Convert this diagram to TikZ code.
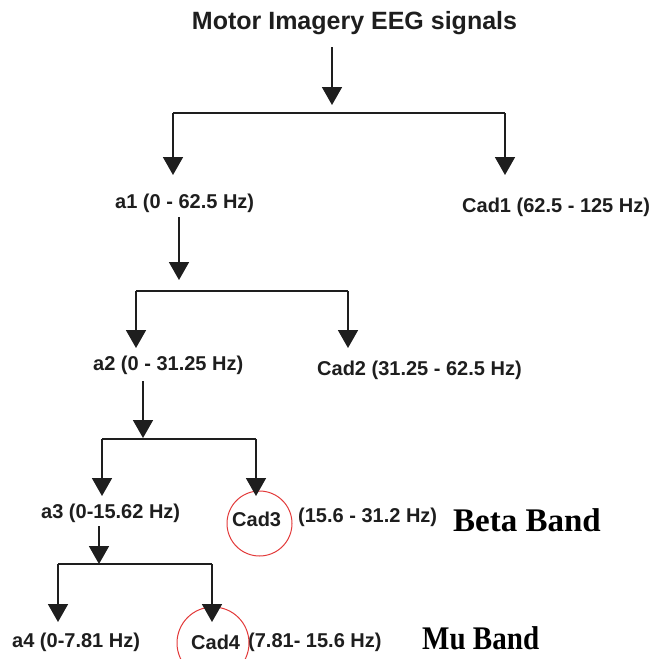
\documentclass[tikz,border=0pt]{standalone}
\usepackage{fontspec}
\setmainfont{Liberation Sans}
\newfontfamily\serifbf{Liberation Serif}
\usetikzlibrary{arrows.meta}
\definecolor{ink}{HTML}{1E1E1E}
\definecolor{ringred}{HTML}{E23A3A}
\tikzset{
  arr/.style={-{Triangle[width=20pt,length=18pt]}, line width=1.8pt, draw=ink},
  barline/.style={line width=1.8pt, draw=ink},
  lbl/.style={anchor=west, inner sep=0pt, text=ink, font=\fontsize{20}{24}\selectfont\bfseries},
  ttl/.style={inner sep=0pt, text=ink, font=\fontsize{25}{30}\selectfont\bfseries},
  band/.style={anchor=west, inner sep=0pt, text=black, font=\fontsize{33}{38}\selectfont\serifbf\bfseries},
  ring/.style={draw=ringred, line width=1pt}
}
\begin{document}
\begin{tikzpicture}[x=1pt,y=1pt]
\useasboundingbox (0,0) rectangle (655,-659);
% texts
\node[ttl] (title) at (354.5,-23) {Motor Imagery EEG signals};
\node[lbl] (a1) at (115,-203) {a1 (0 - 62.5 Hz)};
\node[lbl] (cad1) at (462,-207) {Cad1 (62.5 - 125 Hz)};
\node[lbl] (a2) at (93,-365) {a2 (0 - 31.25 Hz)};
\node[lbl] (cad2) at (317,-370) {Cad2 (31.25 - 62.5 Hz)};
\node[lbl] (a3) at (41,-513) {a3 (0-15.62 Hz)};
\node[lbl] (cad3) at (232,-519) {Cad3};
\node[lbl] (r3) at (298,-517) {(15.6 - 31.2 Hz)};
\node[band] (beta) at (453,-520) {Beta Band};
\node[lbl] (a4) at (12,-642) {a4 (0-7.81 Hz)};
\node[lbl] (cad4) at (191,-642) {Cad4};
\node[lbl] (r4) at (248,-642) {(7.81- 15.6 Hz)};
\node[band, xscale=0.88] (mu) at (422,-638) {Mu Band};
% red rings
\node[ring, circle, minimum size=65pt, inner sep=0pt] (ring3) at (259.5,-523.5) {};
\node[ring, circle, minimum size=72pt, inner sep=0pt] (ring4) at (213,-643) {};
% level 1
\coordinate (s1) at (332,-47);
\coordinate (t1) at (332,-105);
\coordinate (L1) at (173,-113);
\coordinate (R1) at (505,-113);
\coordinate (tL1) at (173,-175);
\coordinate (tR1) at (505,-175);
\draw[arr] (s1) -- (t1);
\draw[barline] (L1) -- (R1);
\draw[arr] (L1) -- (tL1);
\draw[arr] (R1) -- (tR1);
% level 2
\coordinate (s2) at (179,-217);
\coordinate (t2) at (179,-280);
\coordinate (L2) at (136,-291);
\coordinate (R2) at (348,-291);
\coordinate (tL2) at (136,-348);
\coordinate (tR2) at (348,-348);
\draw[arr] (s2) -- (t2);
\draw[barline] (L2) -- (R2);
\draw[arr] (L2) -- (tL2);
\draw[arr] (R2) -- (tR2);
% level 3
\coordinate (s3) at (143,-381);
\coordinate (t3) at (143,-438);
\coordinate (L3) at (102,-439);
\coordinate (R3) at (256,-439);
\coordinate (tL3) at (102,-496);
\coordinate (tR3) at (256,-496);
\draw[arr] (s3) -- (t3);
\draw[barline] (L3) -- (R3);
\draw[arr] (L3) -- (tL3);
\draw[arr] (R3) -- (tR3);
% level 4
\coordinate (s4) at (99,-526);
\coordinate (t4) at (99,-564);
\coordinate (L4) at (58,-564);
\coordinate (R4) at (212,-564);
\coordinate (tL4) at (58,-622);
\coordinate (tR4) at (212,-622);
\draw[arr] (s4) -- (t4);
\draw[barline] (L4) -- (R4);
\draw[arr] (L4) -- (tL4);
\draw[arr] (R4) -- (tR4);
\end{tikzpicture}
\end{document}
